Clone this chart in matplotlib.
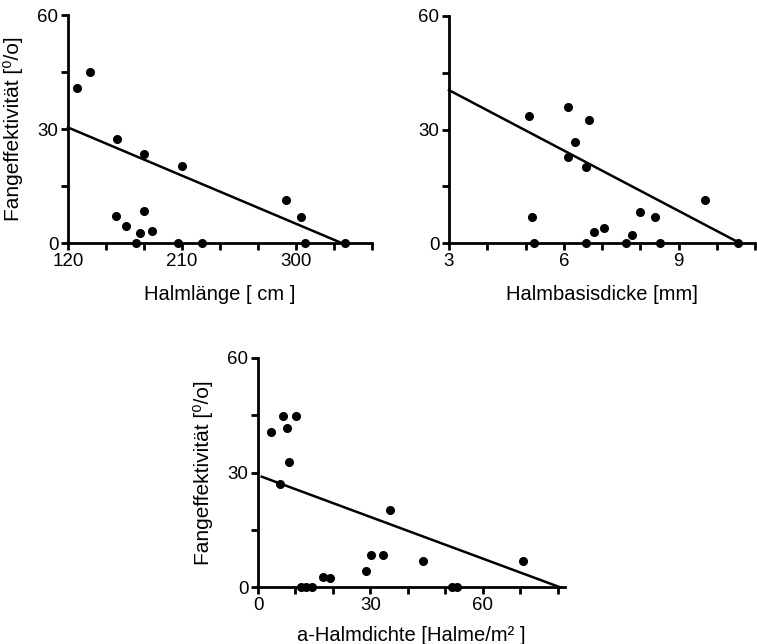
import matplotlib
matplotlib.use("Agg")
import matplotlib.pyplot as plt
from matplotlib.ticker import FixedLocator, MultipleLocator

plt.rcParams["font.family"] = ["Liberation Sans", "DejaVu Sans"]

# --- Halmlänge [cm] vs. Fangeffektivität [%]
laenge_x = [127, 137, 159, 180, 210, 292, 304, 158, 166, 180, 177, 186, 174, 207, 226, 307, 339]
laenge_y = [40.9, 45.0, 27.4, 23.4, 20.3, 11.3, 6.8, 7.1, 4.5, 8.3, 2.7, 3.2, 0, 0, 0, 0, 0]
laenge_fit_x = [120, 336]
laenge_fit_y = [30.4, 0]
laenge_ticks = [120, 210, 300]

# --- Halmbasisdicke [mm]
dicke_x = [5.09, 6.10, 6.66, 6.30, 6.12, 6.59, 9.68, 5.18, 7.99, 8.38, 7.04, 6.79, 7.78,
           5.21, 6.57, 7.63, 8.51, 10.56]
dicke_y = [33.6, 36.0, 32.5, 26.7, 22.8, 20.1, 11.3, 6.8, 8.1, 6.8, 3.9, 2.8, 2.1,
           0, 0, 0, 0, 0]
dicke_fit_x = [3, 10.6]
dicke_fit_y = [40.4, 0]
dicke_ticks = [3, 6, 9]

# --- a-Halmdichte [Halme/m²]
dichte_x = [3.4, 6.8, 10.2, 7.8, 8.3, 6.0, 35.2, 30.2, 33.5, 28.9, 44.2, 70.7, 17.3, 19.1,
            11.6, 12.7, 14.5, 51.8, 53.2]
dichte_y = [40.7, 44.7, 44.7, 41.6, 32.7, 27.0, 20.1, 8.3, 8.3, 4.2, 6.9, 6.9, 2.7, 2.4,
            0, 0, 0, 0, 0]
dichte_fit_x = [1, 80.5]
dichte_fit_y = [28.9, 0]
dichte_ticks = [0, 30, 60]

YLABEL = "Fangeffektivität [⁰/o]"

W, H = 757, 644
fig = plt.figure(figsize=(W / 100, H / 100), dpi=100)


def px_axes(left, top, right, bottom):
    return fig.add_axes([left / W, (H - bottom) / H, (right - left) / W, (bottom - top) / H])


def style(ax, xlim, xmajor, xminor, xlabel, ylabel=None, labelpad=11):
    ax.set_xlim(*xlim)
    ax.set_ylim(0, 60)
    for s in ("top", "right"):
        ax.spines[s].set_visible(False)
    for s in ("left", "bottom"):
        ax.spines[s].set_linewidth(2.0)
    ax.xaxis.set_major_locator(FixedLocator(xmajor))
    ax.xaxis.set_minor_locator(MultipleLocator(xminor))
    ax.yaxis.set_major_locator(MultipleLocator(30))
    ax.yaxis.set_minor_locator(MultipleLocator(15))
    ax.tick_params(which="both", direction="out", width=2.0, length=5, labelsize=13.5, pad=2)
    ax.set_xlabel(xlabel, fontsize=14.5, labelpad=labelpad)
    if ylabel:
        ax.set_ylabel(ylabel, fontsize=15, labelpad=10)


def draw(ax, x, y, fx, fy):
    ax.plot(x, y, "o", color="black", ms=5.5, clip_on=False, zorder=3)
    ax.plot(fx, fy, "-", color="black", lw=1.8, clip_on=False, zorder=2)


ax1 = px_axes(68, 15, 372, 243)
draw(ax1, laenge_x, laenge_y, laenge_fit_x, laenge_fit_y)
style(ax1, (120, 360), laenge_ticks, 30, "Halmlänge [ cm ]", YLABEL)

ax2 = px_axes(449, 16, 755, 243)
draw(ax2, dicke_x, dicke_y, dicke_fit_x, dicke_fit_y)
style(ax2, (3, 11), dicke_ticks, 1, "Halmbasisdicke [mm]")

ax3 = px_axes(258, 358, 565, 587)
draw(ax3, dichte_x, dichte_y, dichte_fit_x, dichte_fit_y)
style(ax3, (0, 82), dichte_ticks, 10, "a-Halmdichte [Halme/m² ]", YLABEL, labelpad=9)

fig.savefig("out.png", dpi=100)
